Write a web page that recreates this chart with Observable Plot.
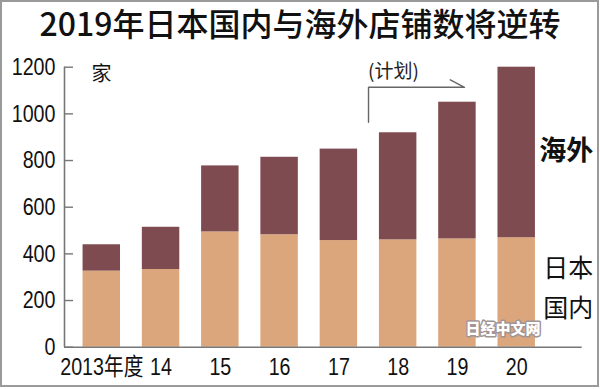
<!DOCTYPE html>
<html>
<head>
<meta charset="utf-8">
<script src="https://cdn.jsdelivr.net/npm/d3@7"></script>
<script src="https://cdn.jsdelivr.net/npm/@observablehq/plot@0.6"></script>
<style>
  html, body { margin: 0; padding: 0; background: #fff; }
  #wrap { position: relative; width: 600px; height: 389px; overflow: hidden; background: #fff; }
  #frame { position: absolute; left: 0; top: 0; width: 595px; height: 383px; border: 2px solid #9a9a9a; box-sizing: content-box; pointer-events: none; }
  #title { position: absolute; left: 0; top: 2px; width: 600px; height: 40px; text-align: center; font-family: "Noto Sans CJK SC", sans-serif; font-size: 32px; line-height: 40px; font-weight: 500; color: #111; letter-spacing: 0px; white-space: nowrap; }
  #chart { position: absolute; left: 0; top: 0; }
</style>
</head>
<body>
<div id="wrap">
  <div id="chart"></div>
  <div id="title">2019年日本国内与海外店铺数将逆转</div>
  <div id="frame"></div>
</div>
<script>
// ---- data ----
const years = ["2013年度", "14", "15", "16", "17", "18", "19", "20"];
const domestic = [326, 333, 494, 482, 457, 460, 464, 469];   // 日本国内
const overseas = [113, 181, 283, 332, 392, 459, 586, 731];   // 海外
const yTicks = [0, 200, 400, 600, 800, 1000, 1200];
const unitLabel = "家";
const planLabel = "(计划)";
const seriesLabels = {overseas: "海外", domestic: "日本\n国内"};
const watermark = "日经中文网";
// planned-period bracket (x in category index units, y in stores)
const planArrow = [
  {x: 4.5, y: 964}, {x: 4.5, y: 1114}, {x: 6.12, y: 1114}, {x: 5.88, y: 1146}
];

// ---- derived table ----
const halfBar = 0.316;
const rows = [];
years.forEach((yr, i) => {
  rows.push({i, series: "domestic", y1: 0, y2: domestic[i]});
  rows.push({i, series: "overseas", y1: domestic[i], y2: domestic[i] + overseas[i]});
});
const xDomain = [-0.629, 8.105];
const colors = {domestic: "#dca67c", overseas: "#7e4c50"};
const numFont = '"Liberation Sans Narrow", "Liberation Sans", Arial, "Noto Sans CJK SC", sans-serif';
const cjkFont = '"Noto Sans CJK SC", sans-serif';

const plot = Plot.plot({
  width: 600,
  height: 389,
  marginTop: 66.7,
  marginBottom: 42.3,
  marginLeft: 64,
  marginRight: 18.3,
  style: {background: "transparent", fontFamily: numFont, color: "#111"},
  x: {type: "linear", domain: xDomain, axis: null},
  y: {domain: [0, 1200], axis: null},
  marks: [
    Plot.rect(rows, {
      x1: d => d.i - halfBar, x2: d => d.i + halfBar,
      y1: "y1", y2: "y2",
      fill: d => colors[d.series]
    }),
    Plot.ruleY([0], {stroke: "#777", strokeWidth: 1.6}),
    Plot.ruleX([xDomain[0]], {stroke: "#777", strokeWidth: 1.6}),
    Plot.axisY(yTicks, {anchor: "left", tickSize: 9, dx: 9, stroke: "#777", strokeWidth: 1.4, tickFormat: () => "", label: null}),
    Plot.axisY(yTicks, {anchor: "left", tickSize: 0, tickPadding: 9, tickFormat: d => String(d), fontSize: 24, fontFamily: numFont, fill: "#111", label: null}),
    Plot.axisX(d3.range(years.length), {anchor: "bottom", tickSize: 0, tickPadding: 11, tickFormat: i => years[i], fontSize: 24, fontFamily: numFont, fill: "#111", label: null}),
    Plot.text([unitLabel], {frameAnchor: "top-left", dx: 27, fontSize: 20, fontFamily: cjkFont, fill: "#111"}),
    Plot.line(planArrow, {x: "x", y: "y", stroke: "#666", strokeWidth: 1.4}),
    Plot.text([planLabel], {x: 4.92, y: 1179, fontSize: 19, fontFamily: cjkFont, fill: "#222"}),
    Plot.text([seriesLabels.overseas], {x: 7.835, y: 839, fontSize: 27, fontWeight: "bold", fontFamily: cjkFont, fill: "#111"}),
    Plot.text([seriesLabels.domestic], {x: 7.87, y: 270, fontSize: 25, lineHeight: 1.6, fontFamily: cjkFont, fill: "#111", style: "letter-spacing:1px"}),
    Plot.text([watermark], {x: 6.77, y: 76, fontSize: 15, fontWeight: 900, fontFamily: cjkFont, fill: "#fff", stroke: "#a09494", strokeWidth: 3, paintOrder: "stroke"})
  ]
});

// condense the tick-label lettering horizontally, like the narrow typeface of the original
const narrow = 0.82;
d3.select(plot).selectAll('g[aria-label="y-axis tick label"] text, g[aria-label="x-axis tick label"] text').each(function() {
  const el = d3.select(this);
  const t = el.attr("transform");
  if (t) {
    el.attr("transform", t + ` scale(${narrow},1)`);
  } else {
    const x = +el.attr("x") || 0, y = +el.attr("y") || 0;
    el.attr("x", null).attr("y", null).attr("transform", `translate(${x},${y}) scale(${narrow},1)`);
  }
});
document.getElementById("chart").appendChild(plot);
</script>
</body>
</html>
